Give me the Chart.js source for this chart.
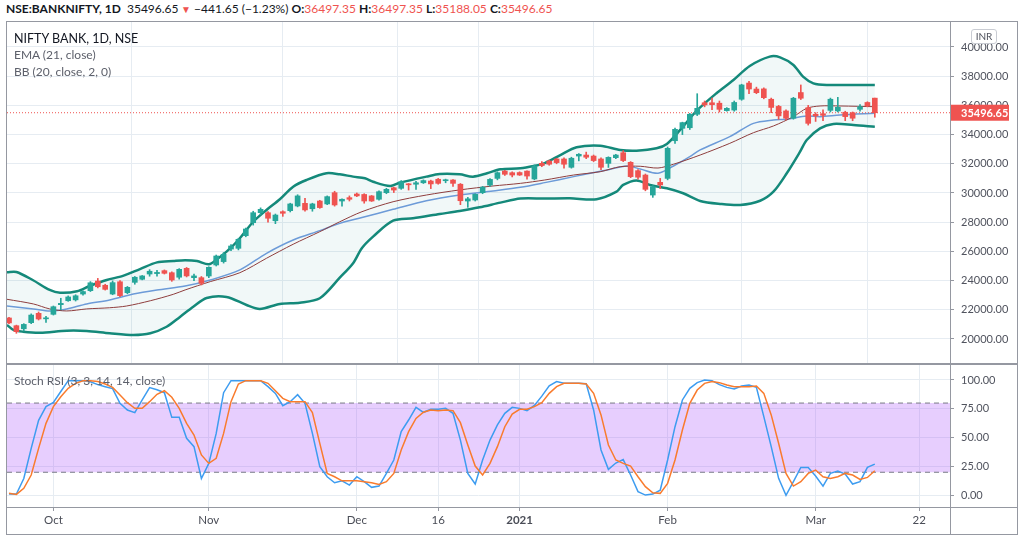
<!DOCTYPE html>
<html>
<head>
<meta charset="utf-8">
<script src="https://cdn.jsdelivr.net/npm/chart.js@4.4.1/dist/chart.umd.min.js"></script>
<style>
  body { margin: 0; width: 1024px; height: 541px; background: #fff; position: relative; overflow: hidden; font-family: Lato, sans-serif; color: #131722; }
  .abs { position: absolute; }
  .line { position: absolute; background: #9598a1; }
  #hdr { left: 6px; top: 1px; font-size: 12px; line-height: 16px; white-space: nowrap; }
  #hdr .r { color: #ef5350; }
  .leg { position: absolute; left: 14px; font-size: 12px; line-height: 15px; white-space: nowrap; color: #5d606b; }
  #inr { left: 971px; top: 29px; width: 24px; height: 13px; border: 1px solid #c9ccd3; border-radius: 3px; background: #fff; font-size: 10px; line-height: 13px; text-align: center; color: #50535e; }
</style>
</head>
<body>
<div id="hdr" class="abs"><b>NSE:BANKNIFTY, 1D</b>&nbsp; 35496.65<span class="r" style="font-size:10px"> ▼</span> −441.65 (−1.23%) <b>O:</b><span class="r">36497.35</span> <b>H:</b><span class="r">36497.35</span> <b>L:</b><span class="r">35188.05</span> <b>C:</b><span class="r">35496.65</span></div>

<canvas id="price" class="abs" style="left:7px;top:22px" width="1010" height="341"></canvas>
<canvas id="rsi" class="abs" style="left:7px;top:365px" width="1010" height="169"></canvas>

<div class="line" style="left:6px;top:21px;width:1012px;height:1px"></div>
<div class="line" style="left:6px;top:534px;width:1012px;height:1px"></div>
<div class="line" style="left:6px;top:21px;width:1px;height:514px"></div>
<div class="line" style="left:1017px;top:21px;width:1px;height:514px"></div>
<div class="line" style="left:7px;top:363px;width:1010px;height:2px"></div>
<div class="line" style="left:7px;top:507px;width:1010px;height:1px"></div>
<div class="line" style="left:950px;top:22px;width:1px;height:512px"></div>

<div class="leg" style="top:31px;color:#131722;font-size:12.5px">NIFTY BANK, 1D, NSE</div>
<div class="leg" style="top:47px">EMA (21, close)</div>
<div class="leg" style="top:64px">BB (20, close, 2, 0)</div>
<div class="leg" style="top:373px">Stoch RSI (3, 3, 14, 14, close)</div>
<div id="inr" class="abs">INR</div>

<script>
// daily bars, 23 Sep 2020 .. 12 Mar 2021 (index = bar number)
const open = [
  21440, 20910, 20700, 21120, 21760, 21380, 21690, 22350, 22620, 22680,
  23080, 23310, 23970, 23680, 23080, 23920, 23170, 23880, 24090, 24450,
  24480, 24680, 24540, 24230, 24840, 24200, 24200, 24315, 25070, 25300,
  26160, 26210, 27075, 27965, 28650, 28650, 28100, 28720, 28790, 29110,
  29290, 28920, 29450, 29250, 30020, 29450, 29680, 29930, 29900, 29800,
  29570, 30020, 30360, 30320, 30620, 30600, 30700, 30820, 30940, 30840,
  30890, 30600, 29450, 29520, 30020, 30540, 31000, 31500, 31390, 31400,
  31500, 30960, 32030, 32190, 32330, 32330, 31760, 32530, 32600, 32530,
  32330, 32030, 32420, 32760, 32100, 31530, 31230, 29860, 30730, 31000,
  33580, 34430, 34470, 35390, 36180, 36180, 36150, 35640, 35680, 36420,
  37530, 37120, 37130, 36420, 35930, 35620, 35120, 36880, 35840, 35390,
  35430, 35660, 35620, 35530, 35500, 35730, 36200, 36497.35
];
const high = [
  21480, 20950, 21050, 21720, 21850, 21550, 22260, 22790, 22950, 23030,
  23300, 23930, 24150, 23750, 23980, 24000, 23600, 24280, 24350, 24750,
  24700, 24730, 24600, 24820, 24900, 24450, 24280, 24950, 25750, 25920,
  26470, 26900, 27600, 28750, 28980, 28720, 28560, 28780, 29300, 29880,
  29640, 29300, 29500, 29800, 30120, 29600, 29800, 30000, 29950, 29830,
  30150, 30320, 30400, 30850, 30650, 30800, 30900, 30880, 31000, 30950,
  30920, 30650, 29700, 29950, 30450, 30980, 31450, 31550, 31450, 31450,
  31520, 31920, 32150, 32250, 32380, 32400, 32450, 32700, 32800, 32600,
  32400, 32480, 32650, 32900, 32150, 31600, 31300, 30500, 31000, 33150,
  34450, 34850, 35450, 36800, 36300, 36500, 36300, 35850, 36300, 37450,
  37650, 37250, 37200, 36500, 36000, 35700, 36550, 37400, 36000, 35500,
  35700, 36500, 36550, 35600, 35550, 36050, 36250, 36497.35
];
const low = [
  21050, 20390, 20550, 21050, 21300, 21130, 21640, 22000, 22580, 22600,
  23000, 23250, 23500, 23350, 23030, 22900, 23100, 23750, 24050, 24300,
  24300, 24450, 23950, 24100, 24250, 24000, 23700, 24200, 25000, 25200,
  26050, 26100, 27000, 27800, 28500, 28000, 27900, 28400, 28700, 29050,
  28750, 28750, 28950, 29200, 29100, 29100, 29450, 29750, 29300, 29420,
  29500, 29950, 30030, 30250, 30200, 30250, 30650, 30300, 30600, 30700,
  30450, 29200, 29020, 29450, 29950, 30450, 30900, 31200, 31100, 31200,
  30950, 30900, 31800, 31900, 32000, 31700, 31700, 32200, 32350, 32150,
  31600, 31750, 32350, 32150, 31050, 30950, 30150, 29700, 30300, 30900,
  33400, 34000, 34350, 35300, 35900, 35700, 35550, 35600, 35600, 36350,
  36800, 36800, 36450, 35500, 35050, 35000, 35050, 36400, 34650, 34900,
  34950, 35550, 35550, 34950, 34950, 35600, 35900, 35188.05
];
const close = [
  21100, 20500, 21000, 21640, 21370, 21450, 22210, 22440, 22880, 22960,
  23250, 23850, 23580, 23400, 23860, 22970, 23540, 24230, 24320, 24640,
  24560, 24500, 24040, 24770, 24320, 24320, 23815, 24910, 25685, 25800,
  26370, 26830, 27535, 28650, 28880, 28270, 28490, 28610, 29250, 29800,
  28840, 29250, 29000, 29750, 29180, 29570, 29570, 29800, 29450, 29450,
  30090, 30250, 30200, 30770, 30560, 30700, 30850, 30620, 30660, 30890,
  30660, 29470, 29600, 29910, 30400, 30930, 31390, 31280, 31230, 31230,
  31160, 31850, 31880, 31970, 32080, 31970, 32380, 32650, 32450, 32220,
  31760, 32440, 32600, 32220, 31120, 31080, 30250, 30430, 30550, 33060,
  34360, 34820, 35390, 35800, 36030, 36050, 35730, 35800, 36200, 37400,
  37120, 36870, 36530, 35860, 35280, 35120, 36490, 36490, 34770, 35280,
  35320, 36420, 35870, 35230, 35120, 35910, 35960, 35496.65
];
const lastPrice = 35496.65;

// indicator lines as [bar, value]
const bbUpper = [[-0.27,24570],[1,24590],[3.2,24040],[5.5,23360],[6.9,23170],[9.2,23270],[10.9,23630],[13.2,24040],[15.4,24320],[17.7,24790],[20,25250],[22.2,25340],[23.8,25390],[25.4,25340],[27,25120],[28.1,25460],[29.4,25980],[31,26780],[33,28030],[34.8,28840],[36.6,29570],[38.4,30430],[40.2,30890],[42.9,31350],[44.7,31280],[46.5,31120],[48.1,31010],[49.2,30770],[51.5,30480],[52.8,30700],[56.4,31120],[58.2,31300],[60.9,31280],[62.7,31120],[64.6,31350],[66.4,31620],[69.1,31690],[70.9,31850],[72.4,32050],[74.5,32600],[76.7,33130],[79.9,33240],[82.6,32950],[84.8,32900],[87.5,33060],[88.9,33360],[90.7,34320],[92.9,35620],[95.6,36830],[97.9,37740],[100.1,38700],[102.8,39340],[104.2,39290],[106,38770],[107.3,37970],[108.7,37510],[110.5,37400],[117,37400]];
const bbLower = [[-0.27,20960],[0.6,20620],[1.9,20500],[4.2,20430],[7.8,20570],[10.5,20550],[13.6,20390],[16.8,20270],[19.1,20390],[21.3,20840],[23.1,21510],[24.9,22210],[26.7,22810],[29.4,22880],[32.1,22330],[33.9,22060],[36.6,22400],[39.3,22490],[42,22790],[44.7,24200],[46.5,25190],[47.7,26230],[49.2,27010],[51.9,28100],[54.6,28270],[58.2,28560],[60.9,28770],[63.6,29020],[66.4,29340],[69.1,29620],[72.4,29620],[75.8,29640],[79.4,29570],[82.1,30090],[83,30550],[84.8,30860],[86.6,30550],[88.9,30320],[91.1,29980],[93.4,29450],[96.1,29250],[98.8,29180],[101.5,29470],[103.3,30090],[105.1,31350],[106.9,32830],[107.8,33630],[109.6,34430],[111.4,34730],[114.1,34660],[117,34540]];
const ema21 = [[-0.27,22720],[3.3,22400],[5.5,22060],[7.8,21920],[10.5,22060],[13.6,22140],[15.9,22260],[19.1,22620],[22.2,23060],[23.8,23360],[27.2,23930],[31.2,24540],[34.8,25530],[38.4,26490],[42,27350],[44.7,28030],[47.7,28720],[51.9,29400],[56.4,29860],[60.9,30210],[65.4,30480],[69.1,30660],[72.4,30890],[76.3,31230],[79.9,31460],[82.6,31800],[85.3,31830],[87.7,31710],[89.8,31970],[93.4,32600],[97.4,33400],[100.6,34130],[103.3,34590],[106,35230],[107.8,35800],[109.6,35960],[112.3,35960],[117,35910]];
const bbBasis = [[-0.27,22260],[3.3,22060],[5.5,21920],[7.8,22060],[10.5,22400],[13.6,22670],[16.8,23080],[20,23360],[23.8,23630],[27.2,24040],[31.2,24730],[34.8,25870],[38.4,26780],[42,27420],[44.7,27920],[47.7,28320],[51.9,28880],[56.4,29470],[60.9,29860],[65.4,30140],[69.1,30390],[72.4,30710],[76.3,31120],[80.8,31580],[83.5,31850],[85.3,31640],[87.7,31350],[89.8,31850],[92,32490],[93.4,32950],[97.4,33860],[100.6,34770],[103.3,35000],[105.1,35050],[107.8,35270],[109.6,35230],[112.3,35340],[117,35460]];

// Stoch RSI
const stochK = [
  1.1, 1.1, 14.6, 40.7, 65, 76.9, 80.6, 90, 99.4, 99.4,
  99.4, 98.5, 96, 94.2, 92.5, 79.8, 74, 71.7, 82.7, 93.4,
  91.5, 89, 67.6, 67.6, 49.4, 42.2, 14.6, 27.7, 53.7, 89,
  99.4, 99.4, 99.4, 99.4, 99.4, 94.2, 88.4, 77.7, 81.2, 87.3,
  79.8, 53.7, 24.8, 16.1, 10.9, 12.6, 8.9, 16.1, 11.8, 6.9,
  8, 19, 30.6, 55.2, 65.3, 76.3, 72, 74.6, 74.6, 75.4,
  71.1, 47.9, 19, 9.8, 30.6, 47.9, 61, 71.1, 76.3, 75.4,
  73.4, 78, 86, 95, 98.6, 97.1, 97.1, 97.1, 96.8, 74,
  39.3, 22.5, 28, 31, 17.6, 3.2, 0.2, 1.1, 4.5, 30.6,
  59.5, 82.7, 92.8, 97.7, 100, 99.4, 96, 93.6, 92.2, 94.8,
  95.7, 93.6, 68.2, 42.2, 14.7, 0, 11.8, 24.2, 24.2, 16.7,
  8, 19, 21, 18.4, 9.8, 11.8, 24.2, 27.1
];
const stochD = [
  1.7, 0.8, 6.1, 17.6, 40.7, 62.4, 76.9, 85.5, 92.8, 97.1,
  99.4, 99.4, 98.6, 96.5, 93.6, 87, 80.3, 75.4, 75.4, 81.2,
  87.6, 90.7, 85, 75.4, 62.4, 52.3, 35, 27.7, 32.1, 53.7,
  81.2, 96.5, 99.4, 99.4, 99.4, 97.1, 90.7, 84.1, 81.2, 81.2,
  81.2, 71.7, 45.1, 19, 16.1, 12.6, 12.6, 12.6, 11.8, 10.9,
  9.5, 11.8, 19, 39.3, 55.2, 66.7, 72, 74, 73.4, 74,
  73.4, 63, 43.6, 25.4, 17.6, 27.7, 42.2, 59.5, 70.5, 74.6,
  74.6, 76.9, 80.3, 88.4, 94.2, 97.1, 97.1, 97.1, 96.5, 88.4,
  69.7, 43.6, 30.6, 27.7, 25.4, 16.1, 7.5, 2.2, 1.7, 10.4,
  30.6, 56.6, 79.8, 91.3, 97.1, 98.6, 97.7, 95.7, 94.2, 94.2,
  94.2, 94.8, 88.4, 69.7, 45.1, 19, 8, 11.8, 19, 21.9,
  16.1, 14.7, 16.1, 19, 17.6, 13.8, 15.5, 21.3
];
const bandHigh = 80;
const bandLow = 20;

// axes
const tickIdx = [6, 27, 47, 58, 69, 89, 109, 123];
const tickLabels = ['Oct', 'Nov', 'Dec', '16', '2021', 'Feb', 'Mar', '22'];
const priceTicks = [20000, 22000, 24000, 26000, 28000, 30000, 32000, 34000, 36000, 38000, 40000];
const rsiTicks = [0, 25, 50, 75, 100];

const X_MIN = -0.27, X_MAX = 127.16;
const UP = '#26a69a', DOWN = '#ef5350';
const GRID = '#e6ecf2', AXIS = '#9598a1';

Chart.defaults.font.family = 'Lato, sans-serif';
Chart.defaults.font.size = 11;
Chart.defaults.color = '#50535e';
Chart.defaults.animation = false;

const bars = close.map((_, i) => i);
const toPts = arr => arr.map(p => ({x: p[0], y: p[1]}));
const candleColor = ctx => close[ctx.dataIndex] >= open[ctx.dataIndex] ? UP : DOWN;

// no extra room for edge labels: the panes are flush with the frame
function noPad(s) {
    s.paddingTop = 0; s.paddingBottom = 0; s.paddingLeft = 0; s.paddingRight = 0;
}

const xBase = {
    type: 'linear', min: X_MIN, max: X_MAX, offset: false, bounds: 'data',
    afterBuildTicks: s => { s.ticks = tickIdx.map(v => ({value: v})); },
    border: {display: false}
};

const lastPriceTag = {
    id: 'lastPriceTag',
    afterDraw(chart) {
        const c = chart.ctx, a = chart.chartArea;
        const y = chart.scales.y.getPixelForValue(lastPrice);
        c.save();
        c.fillStyle = DOWN;
        c.fillRect(a.right, y - 8, 59, 16);
        c.fillStyle = '#fff';
        c.font = 'bold 11px Lato, sans-serif';
        c.textBaseline = 'middle';
        c.fillText(lastPrice.toFixed(2), a.right + 11, y + 0.5);
        c.restore();
    }
};

const priceChart = new Chart(document.getElementById('price'), {
    type: 'bar',
    data: {
        datasets: [
            {label: 'body', data: bars.map(i => ({x: i, y: [open[i], close[i]]})), backgroundColor: candleColor,
             barThickness: 5, grouped: false, minBarLength: 1, borderWidth: 0, order: 0},
            {label: 'wick', data: bars.map(i => ({x: i, y: [low[i], high[i]]})), backgroundColor: candleColor,
             barThickness: 1, grouped: false, borderWidth: 0, order: 1},
            {type: 'line', label: 'last', data: [{x: X_MIN, y: lastPrice}, {x: X_MAX, y: lastPrice}],
             borderColor: DOWN, borderWidth: 1, borderDash: [1, 2], pointRadius: 0, order: 2},
            {type: 'line', label: 'EMA', data: toPts(ema21), borderColor: '#8e3d3d', borderWidth: 1,
             pointRadius: 0, tension: 0.3, order: 3},
            {type: 'line', label: 'basis', data: toPts(bbBasis), borderColor: '#6c9bd8', borderWidth: 1.5,
             pointRadius: 0, tension: 0.3, order: 4},
            {type: 'line', label: 'upper', data: toPts(bbUpper), borderColor: '#14897a', borderWidth: 2.5,
             pointRadius: 0, tension: 0.3, fill: '+1', backgroundColor: 'rgba(0,128,128,0.055)', order: 5},
            {type: 'line', label: 'lower', data: toPts(bbLower), borderColor: '#14897a', borderWidth: 2.5,
             pointRadius: 0, tension: 0.3, order: 6}
        ]
    },
    options: {
        responsive: false,
        layout: {padding: 0},
        plugins: {legend: {display: false}, tooltip: {enabled: false}, filler: {drawTime: 'beforeDatasetsDraw'}},
        scales: {
            x: Object.assign({}, xBase, {
                grid: {color: GRID, drawTicks: false},
                ticks: {display: false},
                afterFit: s => { s.height = 0; noPad(s); }
            }),
            y: {
                position: 'right', min: 18356, max: 41711,
                afterBuildTicks: s => { s.ticks = priceTicks.map(v => ({value: v})); },
                afterFit: s => { s.width = 67; noPad(s); },
                ticks: {callback: v => v.toFixed(2), padding: 7},
                grid: {color: GRID, tickColor: AXIS, tickLength: 4},
                border: {display: false}
            }
        }
    },
    plugins: [lastPriceTag]
});

const rsiChart = new Chart(document.getElementById('rsi'), {
    type: 'line',
    data: {
        datasets: [
            {label: '%D', data: bars.map(i => ({x: i, y: stochD[i]})), borderColor: '#f97b2d', borderWidth: 1.5, pointRadius: 0, order: 0},
            {label: '%K', data: bars.map(i => ({x: i, y: stochK[i]})), borderColor: '#3d9cf0', borderWidth: 1.5, pointRadius: 0, order: 1},
            {label: 'upper band', data: [{x: X_MIN, y: bandHigh}, {x: X_MAX, y: bandHigh}], borderColor: '#787b86',
             borderWidth: 1, borderDash: [5, 4], pointRadius: 0, order: 2},
            {label: 'lower band', data: [{x: X_MIN, y: bandLow}, {x: X_MAX, y: bandLow}], borderColor: '#787b86',
             borderWidth: 1, borderDash: [5, 4], pointRadius: 0, fill: '-1', backgroundColor: 'rgba(170,80,250,0.28)', order: 3}
        ]
    },
    options: {
        responsive: false,
        layout: {padding: 0},
        plugins: {legend: {display: false}, tooltip: {enabled: false}, filler: {drawTime: 'beforeDatasetsDraw'}},
        scales: {
            x: Object.assign({}, xBase, {
                grid: {color: GRID, tickColor: AXIS, tickLength: 3},
                ticks: {
                    autoSkip: false, maxRotation: 0, padding: 2, color: '#4a4d57',
                    font: ctx => ({size: 11.5, weight: ctx.tick && ctx.tick.value === 69 ? 'bold' : 'normal'}),
                    callback: v => tickLabels[tickIdx.indexOf(v)]
                },
                afterFit: s => { s.height = 26; noPad(s); }
            }),
            y: {
                position: 'right', min: -11, max: 113,
                afterBuildTicks: s => { s.ticks = rsiTicks.map(v => ({value: v})); },
                afterFit: s => { s.width = 67; noPad(s); },
                ticks: {callback: v => v.toFixed(2), padding: 7},
                grid: {color: GRID, tickColor: AXIS, tickLength: 4},
                border: {display: false}
            }
        }
    }
});
</script>
</body>
</html>
